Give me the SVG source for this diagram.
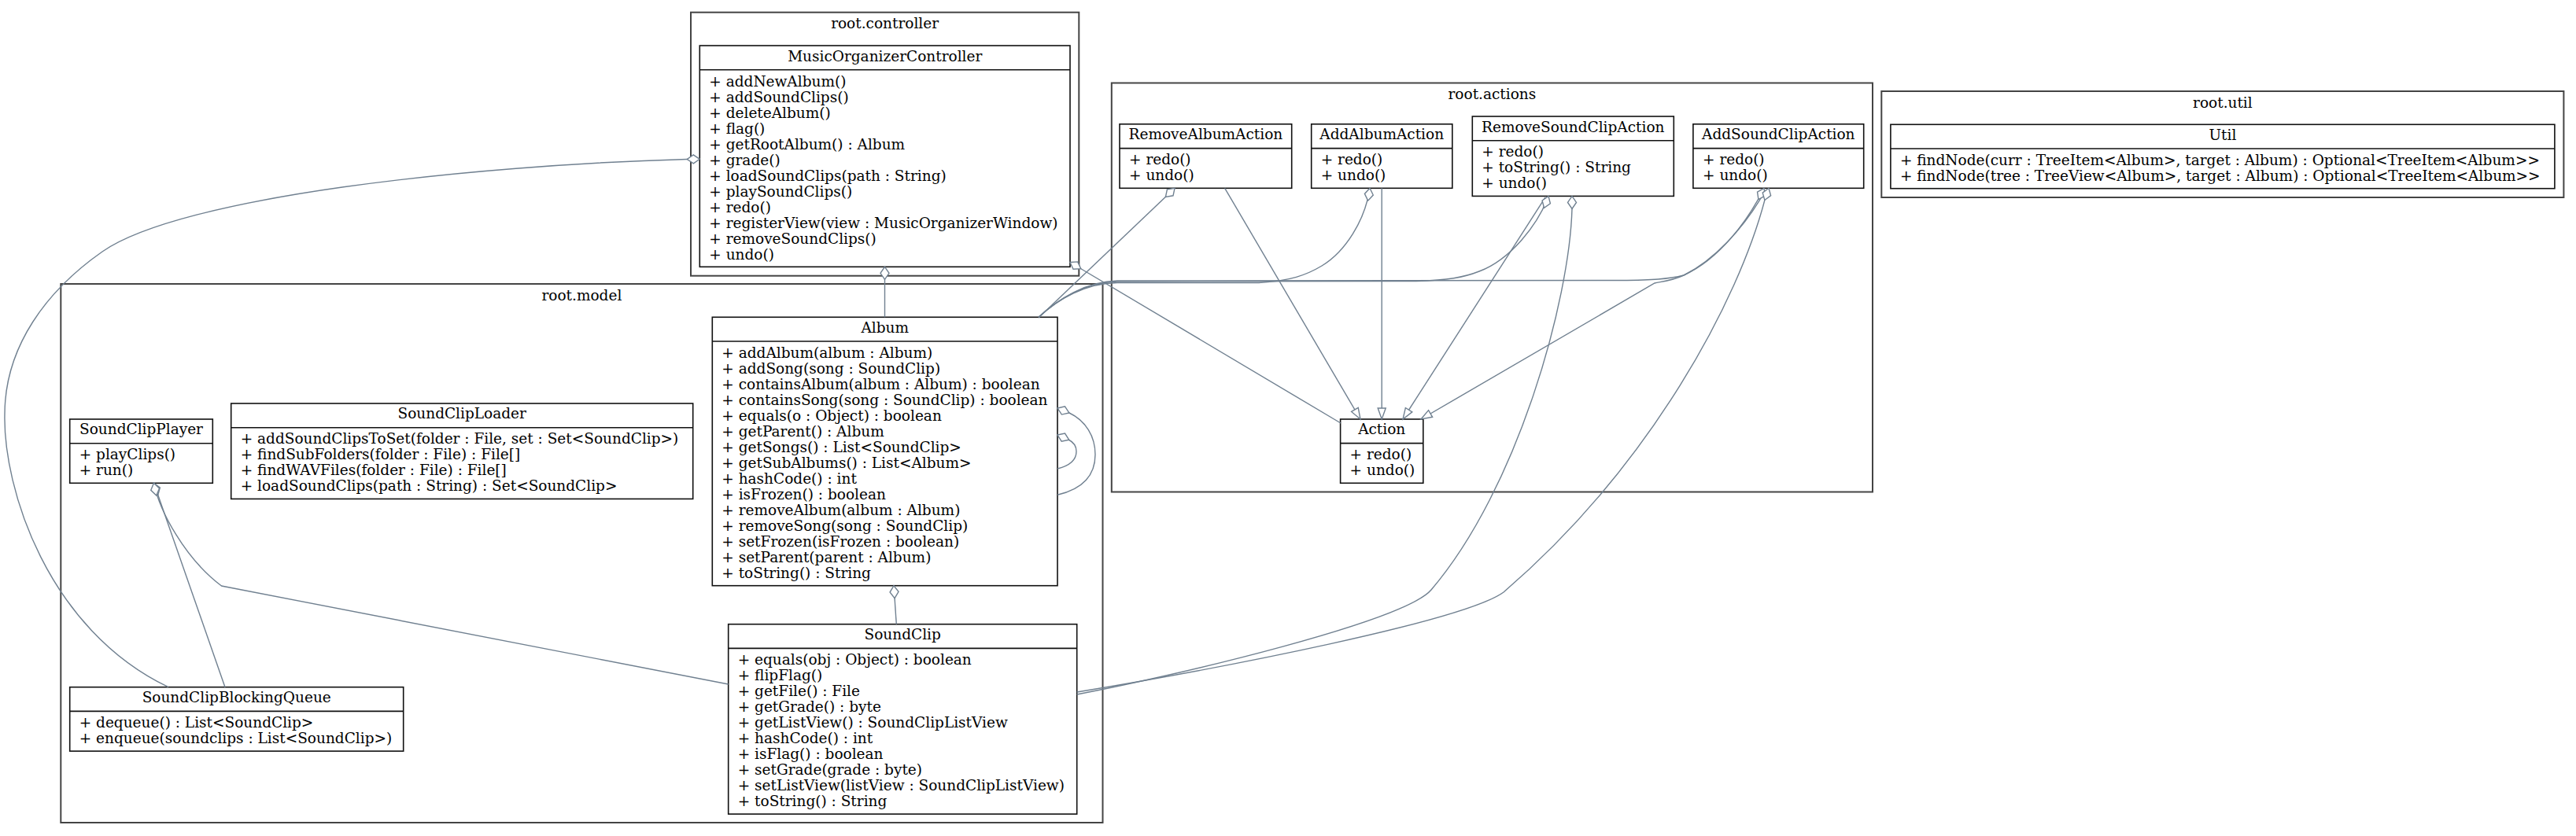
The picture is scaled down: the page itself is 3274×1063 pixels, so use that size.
<svg xmlns="http://www.w3.org/2000/svg" width="3274" height="1063" viewBox="0 0 3274 1063">
<style>
.cl{fill:none;stroke:#444;stroke-width:2}
.nd{fill:#fff;stroke:#111;stroke-width:1.6}
.dv{stroke:#111;stroke-width:1.6}
text{font-family:"DejaVu Serif","Liberation Serif",serif;font-size:18.5px;fill:#000}
.c{text-anchor:middle}
.e{fill:none;stroke:#708090;stroke-width:1.4}
.ag{marker-start:url(#dia)}
.gn{marker-end:url(#tri)}
</style>
<defs>
<marker id="dia" markerUnits="userSpaceOnUse" orient="auto" refX="0" refY="0" overflow="visible"><path d="M0,0 L8,-5.5 L16,0 L8,5.5 Z" fill="#fff" stroke="#708090" stroke-width="1.4"/></marker>
<marker id="tri" markerUnits="userSpaceOnUse" orient="auto" refX="14" refY="0" overflow="visible"><path d="M0,-5 L14,0 L0,5 Z" fill="#fff" stroke="#708090" stroke-width="1.4"/></marker>
</defs>
<rect width="3274" height="1063" fill="#fff"/>

<g id="cluster-controller">
<rect class="cl" x="878" y="15.7" width="493.3" height="335"/>
<text class="c" x="1124.6" y="36.2">root.controller</text>
</g>
<g id="cluster-actions">
<rect class="cl" x="1412.8" y="105.5" width="967.2" height="520"/>
<text class="c" x="1896.4" y="126">root.actions</text>
</g>
<g id="cluster-util">
<rect class="cl" x="2391.3" y="116" width="867.1" height="135"/>
<text class="c" x="2824.9" y="136.5">root.util</text>
</g>
<g id="cluster-model">
<rect class="cl" x="77.3" y="361" width="1324.2" height="685"/>
<text class="c" x="739.4" y="381.5">root.model</text>
</g>

<g id="MusicOrganizerController">
<rect class="nd" x="889.3" y="58" width="470.7" height="281.3"/>
<line class="dv" x1="889.3" y1="88.7" x2="1360" y2="88.7"/>
<text class="c" x="1124.7" y="77.5">MusicOrganizerController</text>
<text x="901.3" y="109.5"><tspan x="901.3">+ addNewAlbum()</tspan><tspan x="901.3" dy="20">+ addSoundClips()</tspan><tspan x="901.3" dy="20">+ deleteAlbum()</tspan><tspan x="901.3" dy="20">+ flag()</tspan><tspan x="901.3" dy="20">+ getRootAlbum() : Album</tspan><tspan x="901.3" dy="20">+ grade()</tspan><tspan x="901.3" dy="20">+ loadSoundClips(path : String)</tspan><tspan x="901.3" dy="20">+ playSoundClips()</tspan><tspan x="901.3" dy="20">+ redo()</tspan><tspan x="901.3" dy="20">+ registerView(view : MusicOrganizerWindow)</tspan><tspan x="901.3" dy="20">+ removeSoundClips()</tspan><tspan x="901.3" dy="20">+ undo()</tspan></text>
</g>

<g id="RemoveAlbumAction">
<rect class="nd" x="1423" y="157.8" width="218.7" height="81.5"/>
<line class="dv" x1="1423" y1="188.6" x2="1641.7" y2="188.6"/>
<text class="c" x="1532.4" y="177.3">RemoveAlbumAction</text>
<text x="1435"><tspan x="1435" y="209.3">+ redo()</tspan><tspan x="1435" y="229.3">+ undo()</tspan></text>
</g>
<g id="AddAlbumAction">
<rect class="nd" x="1666.7" y="157.8" width="179.1" height="81.5"/>
<line class="dv" x1="1666.7" y1="188.6" x2="1845.8" y2="188.6"/>
<text class="c" x="1756.2" y="177.3">AddAlbumAction</text>
<text x="1678.7"><tspan x="1678.7" y="209.3">+ redo()</tspan><tspan x="1678.7" y="229.3">+ undo()</tspan></text>
</g>
<g id="RemoveSoundClipAction">
<rect class="nd" x="1871.3" y="148" width="256" height="101.4"/>
<line class="dv" x1="1871.3" y1="178.7" x2="2127.3" y2="178.7"/>
<text class="c" x="1999.3" y="167.5">RemoveSoundClipAction</text>
<text x="1883.3"><tspan x="1883.3" y="199.4">+ redo()</tspan><tspan x="1883.3" y="219.4">+ toString() : String</tspan><tspan x="1883.3" y="239.4">+ undo()</tspan></text>
</g>
<g id="AddSoundClipAction">
<rect class="nd" x="2151.9" y="157.8" width="216.8" height="81.5"/>
<line class="dv" x1="2151.9" y1="188.6" x2="2368.7" y2="188.6"/>
<text class="c" x="2260.3" y="177.3">AddSoundClipAction</text>
<text x="2164"><tspan x="2164" y="209.3">+ redo()</tspan><tspan x="2164" y="229.3">+ undo()</tspan></text>
</g>
<g id="Action">
<rect class="nd" x="1703.6" y="533" width="105.2" height="81.3"/>
<line class="dv" x1="1703.6" y1="563.6" x2="1808.8" y2="563.6"/>
<text class="c" x="1756.2" y="552.3">Action</text>
<text x="1715.6"><tspan x="1715.6" y="584.3">+ redo()</tspan><tspan x="1715.6" y="604.3">+ undo()</tspan></text>
</g>

<g id="Util">
<rect class="nd" x="2402.9" y="158.3" width="844" height="81.4"/>
<line class="dv" x1="2402.9" y1="189" x2="3246.9" y2="189"/>
<text class="c" x="2824.9" y="177.8">Util</text>
<text x="2414.9"><tspan x="2414.9" y="209.7">+ findNode(curr : TreeItem&lt;Album&gt;, target : Album) : Optional&lt;TreeItem&lt;Album&gt;&gt;</tspan><tspan x="2414.9" y="229.7">+ findNode(tree : TreeView&lt;Album&gt;, target : Album) : Optional&lt;TreeItem&lt;Album&gt;&gt;</tspan></text>
</g>

<g id="SoundClipPlayer">
<rect class="nd" x="88.7" y="533" width="181.6" height="81.3"/>
<line class="dv" x1="88.7" y1="563.7" x2="270.3" y2="563.7"/>
<text class="c" x="179.5" y="552.3">SoundClipPlayer</text>
<text x="100.7"><tspan x="100.7" y="584.3">+ playClips()</tspan><tspan x="100.7" y="604.3">+ run()</tspan></text>
</g>
<g id="SoundClipLoader">
<rect class="nd" x="293.7" y="513" width="587" height="121.4"/>
<line class="dv" x1="293.7" y1="543.7" x2="880.7" y2="543.7"/>
<text class="c" x="587.2" y="532.3">SoundClipLoader</text>
<text x="305.7"><tspan x="305.7" y="564.3">+ addSoundClipsToSet(folder : File, set : Set&lt;SoundClip&gt;)</tspan><tspan x="305.7" y="584.3">+ findSubFolders(folder : File) : File[]</tspan><tspan x="305.7" y="604.3">+ findWAVFiles(folder : File) : File[]</tspan><tspan x="305.7" y="624.3">+ loadSoundClips(path : String) : Set&lt;SoundClip&gt;</tspan></text>
</g>
<g id="Album">
<rect class="nd" x="905.3" y="403.3" width="438.7" height="341.4"/>
<line class="dv" x1="905.3" y1="434" x2="1344" y2="434"/>
<text class="c" x="1124.7" y="422.6">Album</text>
<text x="917.3" y="454.5"><tspan x="917.3">+ addAlbum(album : Album)</tspan><tspan x="917.3" dy="20">+ addSong(song : SoundClip)</tspan><tspan x="917.3" dy="20">+ containsAlbum(album : Album) : boolean</tspan><tspan x="917.3" dy="20">+ containsSong(song : SoundClip) : boolean</tspan><tspan x="917.3" dy="20">+ equals(o : Object) : boolean</tspan><tspan x="917.3" dy="20">+ getParent() : Album</tspan><tspan x="917.3" dy="20">+ getSongs() : List&lt;SoundClip&gt;</tspan><tspan x="917.3" dy="20">+ getSubAlbums() : List&lt;Album&gt;</tspan><tspan x="917.3" dy="20">+ hashCode() : int</tspan><tspan x="917.3" dy="20">+ isFrozen() : boolean</tspan><tspan x="917.3" dy="20">+ removeAlbum(album : Album)</tspan><tspan x="917.3" dy="20">+ removeSong(song : SoundClip)</tspan><tspan x="917.3" dy="20">+ setFrozen(isFrozen : boolean)</tspan><tspan x="917.3" dy="20">+ setParent(parent : Album)</tspan><tspan x="917.3" dy="20">+ toString() : String</tspan></text>
</g>
<g id="SoundClip">
<rect class="nd" x="925.7" y="793.7" width="443" height="241.4"/>
<line class="dv" x1="925.7" y1="824.4" x2="1368.7" y2="824.4"/>
<text class="c" x="1147.2" y="813">SoundClip</text>
<text x="937.7" y="845"><tspan x="937.7">+ equals(obj : Object) : boolean</tspan><tspan x="937.7" dy="20">+ flipFlag()</tspan><tspan x="937.7" dy="20">+ getFile() : File</tspan><tspan x="937.7" dy="20">+ getGrade() : byte</tspan><tspan x="937.7" dy="20">+ getListView() : SoundClipListView</tspan><tspan x="937.7" dy="20">+ hashCode() : int</tspan><tspan x="937.7" dy="20">+ isFlag() : boolean</tspan><tspan x="937.7" dy="20">+ setGrade(grade : byte)</tspan><tspan x="937.7" dy="20">+ setListView(listView : SoundClipListView)</tspan><tspan x="937.7" dy="20">+ toString() : String</tspan></text>
</g>
<g id="SoundClipBlockingQueue">
<rect class="nd" x="88.7" y="873.7" width="424" height="81.4"/>
<line class="dv" x1="88.7" y1="904.4" x2="512.7" y2="904.4"/>
<text class="c" x="300.7" y="893">SoundClipBlockingQueue</text>
<text x="100.7"><tspan x="100.7" y="924.7">+ dequeue() : List&lt;SoundClip&gt;</tspan><tspan x="100.7" y="944.7">+ enqueue(soundclips : List&lt;SoundClip&gt;)</tspan></text>
</g>

<g id="connectors">
<path class="e gn" d="M1556.7,239.3 L1729,533"/>
<path class="e gn" d="M1756.2,239.3 L1756.2,533"/>
<path class="e gn" d="M1964,251 L1783,533"/>
<path class="e gn" d="M2238,252 C2215,290 2180,330 2140,350 C2125,357 2112,358 2103,360 L1806,533"/>
<path class="e ag" d="M889.3,202.3 L873,202.5 C600,210 230,250 130,320 C60,369 6,440 6,527 C4,620 60,800 214,873.7"/>
<path class="e ag" d="M195.5,614.3 L286,873.7"/>
<path class="e ag" d="M195.5,614.3 C203,650 235,710 281.5,745 L925.7,870"/>
<path class="e ag" d="M1124.5,339.3 L1124.5,403.3"/>
<path class="e ag" d="M1136,744.7 L1139.3,793.7"/>
<path class="e ag" d="M1344,519 L1359,525 C1380,535 1392,555 1392,578 C1392,605 1375,622 1344,629.3"/>
<path class="e ag" d="M1344,553 L1358,559 C1366,563 1368,569 1368,574 C1368,585 1360,592 1344,596"/>
<path class="e ag" d="M1493,239.3 L1320,404"/>
<path class="e ag" d="M1741,239.3 C1735,280 1710,320 1680,338 C1660,350 1640,357 1600,359.5 L1420,359.5 C1380,360 1345,380 1320,403.3"/>
<path class="e ag" d="M1968,249.4 C1955,285 1920,330 1880,345 C1860,353 1840,356 1800,357.5 L1420,358 C1380,359 1345,380 1320,403.3"/>
<path class="e ag" d="M2242,239.3 C2222,280 2185,330 2140,350 C2120,355 2100,356 2060,356.5 L1420,357 C1380,358 1345,380 1320,403.3"/>
<path class="e ag" d="M1998,249.4 L1998,265 C1995,380 1930,620 1819,750 C1785,790 1500,858 1368.7,883"/>
<path class="e ag" d="M2248,239.3 L2243,254 C2210,380 2100,590 1911,753 C1860,790 1550,850 1368.7,880"/>
<path class="e ag" d="M1360,333.5 L1704,538"/>
</g>
</svg>
